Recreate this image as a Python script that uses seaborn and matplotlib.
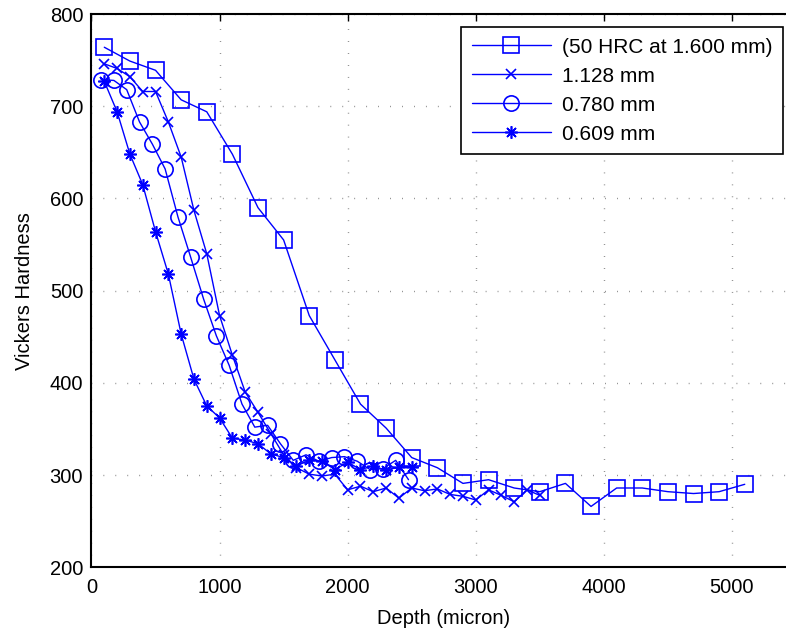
import matplotlib
matplotlib.use("Agg")
import matplotlib.pyplot as plt
import seaborn as sns
import pandas as pd

# ---- data ----
depth_a = [100, 300, 500, 700, 900, 1100, 1300, 1500, 1700, 1900, 2100, 2300, 2500,
           2700, 2900, 3100, 3300, 3500, 3700, 3900, 4100, 4300, 4500, 4700, 4900, 5100]
hv_a = [764, 749, 739, 707, 694, 648, 590, 555, 473, 425, 377, 351, 319,
        308, 291, 295, 286, 282, 291, 266, 286, 286, 282, 280, 282, 290]

depth_b = [100, 200, 300, 400, 500, 600, 700, 800, 900, 1000, 1100, 1200, 1300, 1400,
           1500, 1600, 1700, 1800, 1900, 2000, 2100, 2200, 2300, 2400, 2500, 2600,
           2700, 2800, 2900, 3000, 3100, 3200, 3300, 3400, 3500]
hv_b = [746, 741, 732, 716, 716, 683, 645, 587, 540, 473, 430, 390, 368, 345,
        322, 308, 301, 299, 301, 284, 288, 282, 286, 275, 286, 283,
        285, 279, 277, 273, 284, 278, 271, 284, 278]

depth_c = [75, 175, 275, 375, 475, 575, 675, 775, 875, 975, 1075, 1175, 1275, 1375,
           1475, 1575, 1675, 1775, 1875, 1975, 2075, 2175, 2275, 2375, 2475]
hv_c = [729, 728, 718, 683, 659, 632, 580, 536, 491, 451, 419, 377, 352, 354,
        334, 316, 322, 315, 319, 320, 315, 306, 307, 316, 295]

depth_d = [100, 200, 300, 400, 500, 600, 700, 800, 900, 1000, 1100, 1200, 1300, 1400,
           1500, 1600, 1700, 1800, 1900, 2000, 2100, 2200, 2300, 2400, 2500]
hv_d = [727, 694, 648, 615, 564, 518, 453, 404, 375, 362, 340, 338, 334, 323,
        319, 310, 316, 315, 306, 314, 306, 310, 305, 309, 309]

labels = ["(50 HRC at 1.600 mm)", "1.128 mm", "0.780 mm", "0.609 mm"]
x_ticks = [0, 1000, 2000, 3000, 4000, 5000]
y_ticks = [200, 300, 400, 500, 600, 700, 800]

# ---- style ----
sns.set_theme(style="white")
plt.rcParams["font.family"] = ["Liberation Sans", "DejaVu Sans"]
plt.rcParams["text.color"] = "black"
plt.rcParams["axes.labelcolor"] = "black"
plt.rcParams["xtick.color"] = "black"
plt.rcParams["ytick.color"] = "black"

fig = plt.figure(figsize=(7.86, 6.33), dpi=100)
ax = fig.add_axes([0.1164, 0.1038, 0.8963, 0.874])

blue = (0, 0, 1)
series = [
    (depth_a, hv_a, "s", 11.5),
    (depth_b, hv_b, "x", 6.5),
    (depth_c, hv_c, "o", 11),
    (depth_d, hv_d, (8, 2, 0), 9),
]
for (xs, ys, mk, ms), lab in zip(series, labels):
    df = pd.DataFrame({"depth": xs, "hv": ys})
    sns.lineplot(data=df, x="depth", y="hv", ax=ax, estimator=None, sort=False,
                 color=blue, linewidth=1.0, marker=mk, markersize=ms,
                 markerfacecolor="none", markeredgecolor=blue, markeredgewidth=1.2,
                 label=lab)

ax.set_xlim(0, 5500)
ax.set_ylim(200, 800)
ax.set_xticks(x_ticks)
ax.set_yticks(y_ticks)
ax.grid(True, color="0.5", linestyle=(0, (0.6, 8)), linewidth=1.0)
for s in ax.spines.values():
    s.set_color("black")
    s.set_linewidth(1.5)
ax.tick_params(direction="in", top=True, right=True, length=5, width=1.0,
               colors="black", labelsize=14.5)
ax.tick_params(axis="x", pad=8)
ax.tick_params(axis="y", pad=6)
ax.set_xlabel("Depth (micron)", fontsize=14.5, labelpad=8)
ax.set_ylabel("Vickers Hardness", fontsize=14.5, labelpad=11)

leg = ax.legend(loc="upper right", bbox_to_anchor=(0.9962, 0.9569),
                bbox_transform=fig.transFigure, fontsize=15, frameon=True,
                fancybox=False, edgecolor="black", framealpha=1,
                handlelength=3.8, handletextpad=0.53, borderpad=0.5,
                labelspacing=0.48, borderaxespad=0)
leg.get_frame().set_linewidth(1.2)

fig.savefig("out.png", dpi=100)
